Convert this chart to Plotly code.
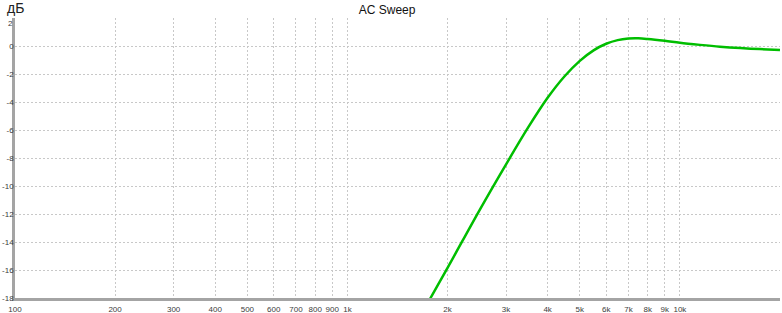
import plotly.graph_objects as go

# Frequency response (Hz, dB)
freq_hz = [1700, 2000, 2500, 3000, 3500, 4000, 4500, 5000, 5500, 6000, 6500,
           7000, 7500, 8000, 9000, 10000, 11500, 13200, 15200, 17400, 20000]
gain_db = [-18.82, -15.85, -11.7, -8.45, -5.8, -3.7, -2.16, -1.06, -0.31, 0.16, 0.42,
           0.53, 0.545, 0.50, 0.37, 0.23, 0.08, -0.05, -0.15, -0.22, -0.28]

x_tickvals = [100, 200, 300, 400, 500, 600, 700, 800, 900, 1000, 2000, 3000,
              4000, 5000, 6000, 7000, 8000, 9000, 10000, 20000]
x_ticktext = ["100", "200", "300", "400", "500", "600", "700", "800", "900", "1k",
              "2k", "3k", "4k", "5k", "6k", "7k", "8k", "9k", "10k", "20k"]
y_tickvals = [2, 0, -2, -4, -6, -8, -10, -12, -14, -16, -18]
y_ticktext = ["2", "0", "-2", "-4", "-6", "-8", "-10", "-12", "-14", "-16", "-18"]

FONT = "Liberation Sans, Arial, sans-serif"
GRID = "#c8c8c8"
AXIS = "#a4a4a4"
TICKC = "#3c3c3c"

fig = go.Figure()
fig.add_trace(go.Scatter(
    x=freq_hz, y=gain_db, mode="lines",
    line=dict(color="rgb(0,190,0)", width=2.5, shape="spline", smoothing=1.0),
    showlegend=False, hoverinfo="skip",
))

# top tick label sits just below its grid line in the reference
shown_text = [("" if v == max(y_tickvals) else t) for v, t in zip(y_tickvals, y_ticktext)]

fig.update_layout(
    width=782, height=313,
    margin=dict(l=15, r=2, t=18, b=15),
    paper_bgcolor="white", plot_bgcolor="white",
    title=dict(text="AC Sweep", x=0.495, xref="container", xanchor="center",
               y=0.968, yref="container", yanchor="middle",
               font=dict(family=FONT, size=12, color="#111")),
    font=dict(family=FONT, size=8, color=TICKC),
    xaxis=dict(
        type="log", range=[2, 4.3011],
        tickvals=x_tickvals, ticktext=x_ticktext, tickangle=0,
        showgrid=True, gridcolor=GRID, griddash="2px,2px", gridwidth=1,
        showline=True, linecolor=AXIS, linewidth=2.5,
        ticks="", zeroline=False, automargin=False, ticklabelstandoff=2,
        tickfont=dict(family=FONT, size=8, color=TICKC),
    ),
    yaxis=dict(
        range=[-18, 2],
        tickvals=y_tickvals, ticktext=shown_text,
        showgrid=True, gridcolor=GRID, griddash="2px,2px", gridwidth=1,
        showline=True, linecolor=AXIS, linewidth=2.5,
        ticks="", zeroline=False, ticklabelstandoff=-3, automargin=False,
        tickfont=dict(family=FONT, size=8, color=TICKC),
    ),
)
fig.add_annotation(text=y_ticktext[0], xref="paper", yref="y", x=0, y=y_tickvals[0],
                   xanchor="right", yanchor="top", xshift=-1, yshift=0,
                   showarrow=False, borderpad=0,
                   font=dict(family=FONT, size=8, color=TICKC))
fig.add_annotation(text="дБ", xref="paper", yref="paper", x=-0.012, y=1.0679,
                   xanchor="left", yanchor="top", showarrow=False, borderpad=0,
                   font=dict(family=FONT, size=14, color="#222"))

fig.write_html("out.html")
